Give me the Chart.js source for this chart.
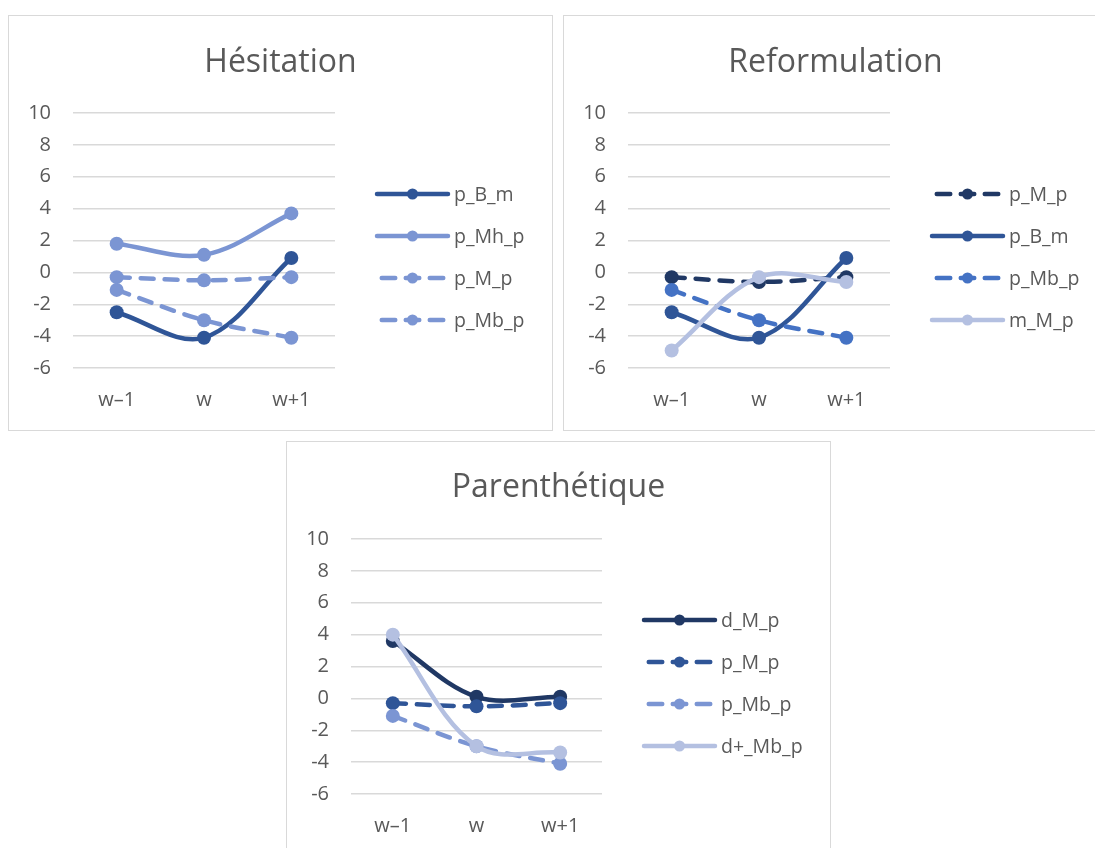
<!DOCTYPE html>
<html>
<head>
<meta charset="utf-8">
<script src="https://cdn.jsdelivr.net/npm/chart.js@4.4.0/dist/chart.umd.min.js"></script>
<style>
  html, body { margin: 0; padding: 0; background: #fff; }
  body { width: 1095px; height: 848px; overflow: hidden; position: relative; }
  .box { position: absolute; border: 1px solid #d9d9d9; background: #fff; }
  .box canvas { display: block; }
</style>
</head>
<body>
<div class="box" style="left:8px; top:15px;"><canvas id="hesitation" width="543" height="414"></canvas></div>
<div class="box" style="left:563px; top:15px;"><canvas id="reformulation" width="543" height="414"></canvas></div>
<div class="box" style="left:286px; top:441px;"><canvas id="parenthetique" width="543" height="414"></canvas></div>
<script>
/*
* values; the x axis is the same for all of them.
*/
const categories = ['w–1', 'w', 'w+1'];
const yMin = -6;
const yMax = 10;
const yStep = 2;

// Hésitation
const hesPBm = [-2.5, -4.1, 0.9];
const hesPMhp = [1.8, 1.1, 3.7];
const hesPMp = [-0.3, -0.5, -0.3];
const hesPMbp = [-1.1, -3.0, -4.1];

// Reformulation
const refPMp = [-0.3, -0.6, -0.3];
const refPBm = [-2.5, -4.1, 0.9];
const refPMbp = [-1.1, -3.0, -4.1];
const refMMp = [-4.9, -0.3, -0.6];

// Parenthétique
const parDMp = [3.6, 0.1, 0.1];
const parPMp = [-0.3, -0.5, -0.3];
const parPMbp = [-1.1, -3.0, -4.1];
const parDplusMbp = [4.0, -3.0, -3.4];

const navy = '#203864';
const darkBlue = '#2f5597';
const blue = '#4472c4';
const midBlue = '#7b95d3';
const paleBlue = '#b4c0e1';
const textGray = '#595959';
const gridGray = '#d9d9d9';
const fontFamily = '"Open Sans", "Noto Sans", sans-serif';

/*
* one line series, styled like the office smooth line with markers.
*/
function series(label, data, color, dashed) {
    return {
        label: label,
        data: data,
        borderColor: color,
        backgroundColor: color,
        borderWidth: 4.5,
        borderDash: dashed ? [13, 11] : [],
        borderCapStyle: 'round',
        borderJoinStyle: 'round',
        pointRadius: 7,
        pointHoverRadius: 7,
        pointBorderWidth: 0,
        pointBackgroundColor: color,
        tension: 0.35,
        fill: false
    };
}

/*
* draws the legend to the right of the plot: a short line sample with its
* marker in the middle and the series name after it.
*/
const sideLegend = {
    id: 'sideLegend',
    afterDraw(chart) {
        const ctx = chart.ctx;
        const area = chart.chartArea;
        const x0 = area.right + 42;
        const len = 71;
        chart.data.datasets.forEach((ds, i) => {
            const y = area.top + 81 + i * 42;
            ctx.save();
            ctx.strokeStyle = ds.borderColor;
            ctx.lineWidth = ds.borderWidth;
            ctx.lineCap = 'round';
            if (ds.borderDash.length) {
                ctx.setLineDash([13.5, 10.5]);
                ctx.lineDashOffset = 19.25;
            }
            ctx.beginPath();
            ctx.moveTo(x0, y);
            ctx.lineTo(x0 + len, y);
            ctx.stroke();
            ctx.setLineDash([]);
            ctx.fillStyle = ds.borderColor;
            ctx.beginPath();
            ctx.arc(x0 + len / 2, y, 5.5, 0, Math.PI * 2);
            ctx.fill();
            ctx.fillStyle = textGray;
            ctx.font = '19.5px ' + fontFamily;
            ctx.textBaseline = 'middle';
            ctx.textAlign = 'left';
            ctx.fillText(ds.label, x0 + len + 6, y + 1);
            ctx.restore();
        });
    }
};

function makeChart(canvasId, title, datasets, rightSpace, titleTop) {
    // later series sit on top, as in the original
    datasets.forEach((ds, i) => {
        ds.order = datasets.length - i;
    });
    return new Chart(document.getElementById(canvasId), {
        type: 'line',
        data: {
            labels: categories,
            datasets: datasets
        },
        options: {
            responsive: false,
            animation: false,
            layout: {
                padding: 0
            },
            scales: {
                x: {
                    offset: true,
                    grid: { display: false, drawTicks: false },
                    border: { display: false },
                    ticks: {
                        color: textGray,
                        padding: 20,
                        font: { family: fontFamily, size: 20 }
                    },
                    afterFit: axis => { axis.height = 62; }
                },
                y: {
                    min: yMin,
                    max: yMax,
                    grid: { color: gridGray, lineWidth: 1.5, drawTicks: false },
                    border: { display: false },
                    ticks: {
                        stepSize: yStep,
                        color: textGray,
                        padding: 22,
                        font: { family: fontFamily, size: 20 }
                    },
                    afterFit: axis => { axis.width = 64; }
                },
                // empty axis that keeps room for the legend, so the title stays centred on the box
                legendRoom: {
                    position: 'right',
                    grid: { display: false, drawTicks: false },
                    border: { display: false },
                    ticks: { display: false },
                    afterFit: axis => { axis.width = rightSpace; }
                }
            },
            plugins: {
                legend: { display: false },
                tooltip: { enabled: false },
                title: {
                    display: true,
                    text: title,
                    color: textGray,
                    font: { family: fontFamily, size: 32, weight: 'normal' },
                    padding: { top: titleTop, bottom: 97 - titleTop - 38.4 }
                }
            }
        },
        plugins: [sideLegend]
    });
}

makeChart('hesitation', 'Hésitation', [
    series('p_B_m', hesPBm, darkBlue, false),
    series('p_Mh_p', hesPMhp, midBlue, false),
    series('p_M_p', hesPMp, midBlue, true),
    series('p_Mb_p', hesPMbp, midBlue, true)
], 217, 28);

makeChart('reformulation', 'Reformulation', [
    series('p_M_p', refPMp, navy, true),
    series('p_B_m', refPBm, darkBlue, false),
    series('p_Mb_p', refPMbp, blue, true),
    series('m_M_p', refMMp, paleBlue, false)
], 217, 28);

makeChart('parenthetique', 'Parenthétique', [
    series('d_M_p', parDMp, navy, false),
    series('p_M_p', parPMp, darkBlue, true),
    series('p_Mb_p', parPMbp, midBlue, true),
    series('d+_Mb_p', parDplusMbp, paleBlue, false)
], 228, 27);
</script>
</body>
</html>
